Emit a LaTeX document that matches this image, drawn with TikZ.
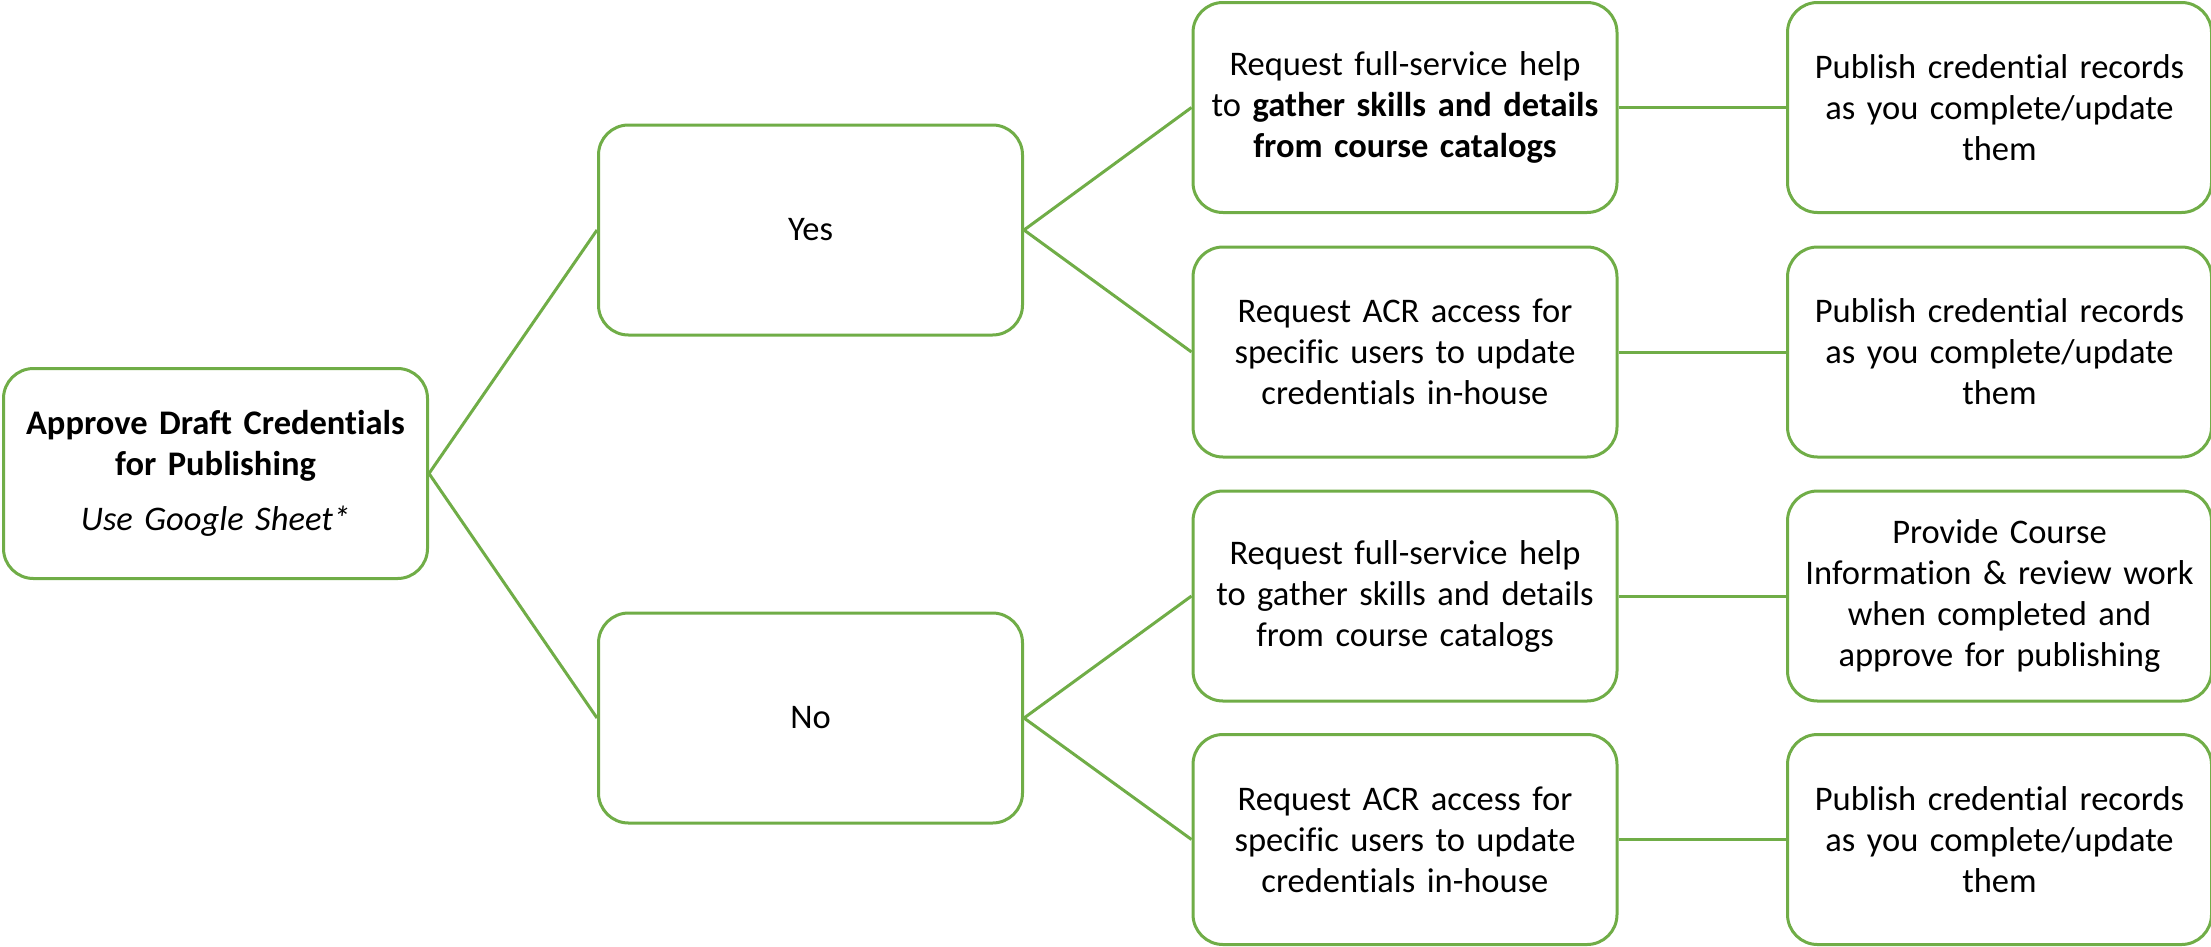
\documentclass[tikz,border=0pt]{standalone}
\usepackage{fontspec}
\setmainfont{Carlito}[Ligatures=NoCommon]
\definecolor{boxgreen}{HTML}{70AD47}
\begin{document}
\begin{tikzpicture}[x=1pt,y=-1pt,
  box/.style={draw=boxgreen, line width=3pt, rounded corners=30pt, fill=white,
    minimum width=424pt, minimum height=210pt, text width=416pt, align=center,
    inner sep=0pt, font=\fontsize{34.5}{41}\selectfont},
  link/.style={draw=boxgreen, line width=3pt}]
\useasboundingbox (0,0) rectangle (2211,946);
\node[box] (root) at (215.5,473.5) {\textbf{Approve Draft Credentials}\\\textbf{for Publishing}\\[14pt]\textit{Use Google Sheet*}};
\node[box] (yes) at (810.5,230) {Yes};
\node[box] (no) at (810.5,718) {No};
\node[box] (a1) at (1405,107.5) {Request full-service help\\to \textbf{gather skills and details}\\\textbf{from course catalogs}};
\node[box] (a2) at (1405,352) {Request ACR access for\\specific users to update\\credentials in-house};
\node[box] (a3) at (1405,596) {Request full-service help\\to gather skills and details\\from course catalogs};
\node[box] (a4) at (1405,839.5) {Request ACR access for\\specific users to update\\credentials in-house};
\node[box] (b1) at (1999.5,107.5) {Publish credential records\\as you complete/update\\them};
\node[box] (b2) at (1999.5,352) {Publish credential records\\as you complete/update\\them};
\node[box] (b3) at (1999.5,596) {Provide Course\\Information \& review work\\when completed and\\approve for publishing};
\node[box] (b4) at (1999.5,839.5) {Publish credential records\\as you complete/update\\them};
\draw[link] (root.east) -- (yes.west);
\draw[link] (root.east) -- (no.west);
\draw[link] (yes.east) -- (a1.west);
\draw[link] (yes.east) -- (a2.west);
\draw[link] (no.east) -- (a3.west);
\draw[link] (no.east) -- (a4.west);
\draw[link] (a1.east) -- (b1.west);
\draw[link] (a2.east) -- (b2.west);
\draw[link] (a3.east) -- (b3.west);
\draw[link] (a4.east) -- (b4.west);
\end{tikzpicture}
\end{document}
